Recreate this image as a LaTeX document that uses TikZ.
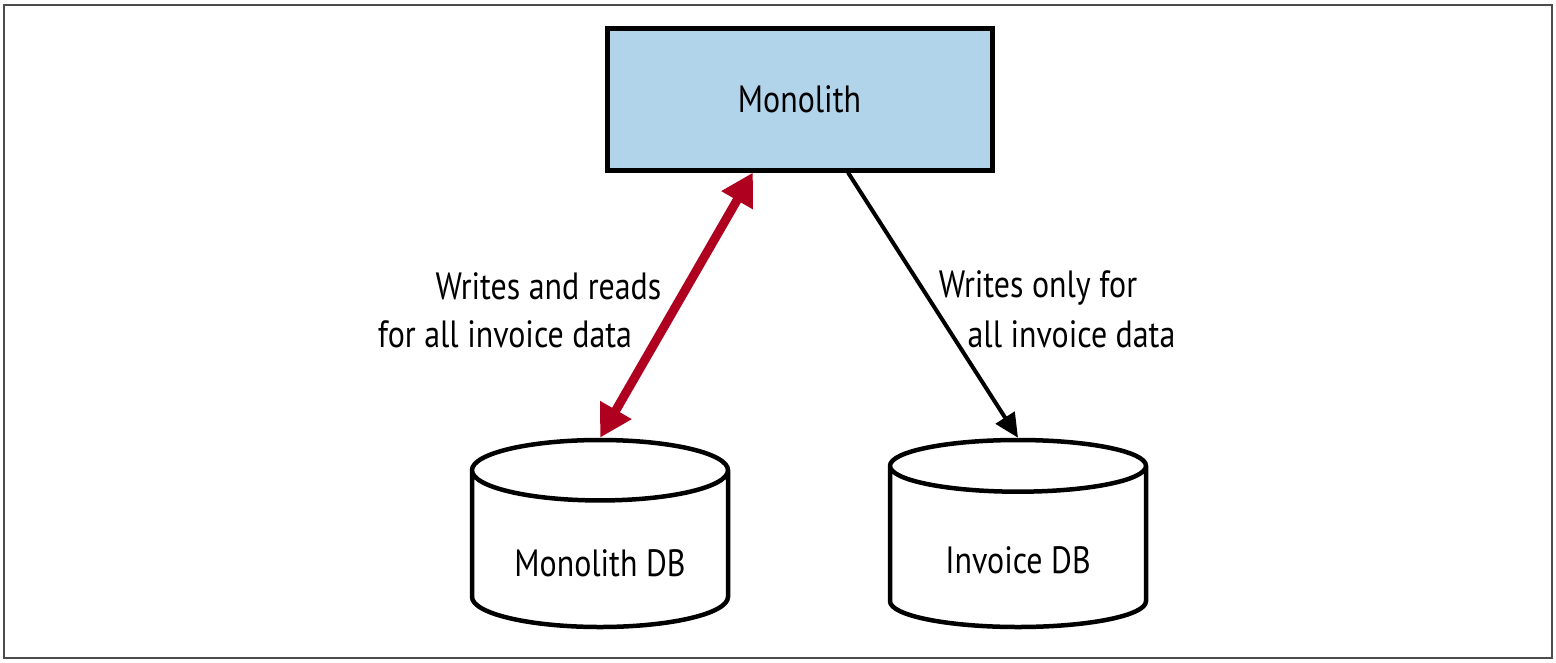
\documentclass[tikz,border=0pt]{standalone}
\usepackage{fontspec}
\setmainfont[FakeStretch=0.84]{PT Sans}
\usetikzlibrary{arrows.meta,shapes.geometric}
\definecolor{boxblue}{RGB}{178,212,234}
\definecolor{arrowred}{RGB}{176,0,32}
\newcommand{\dbtext}[1]{\raisebox{-10pt}[\height][\depth]{#1}}

\begin{document}
\begin{tikzpicture}[x=1pt,y=-1pt,
    box/.style = {rectangle,draw=black,line width=5pt,fill=boxblue,minimum width=385pt,minimum height=142pt,font=\fontsize{38}{46}\selectfont},
    db/.style = {cylinder,shape border rotate=90,aspect=0.34,draw=black,line width=4.5pt,minimum width=256pt,minimum height=187pt,anchor=shape center,font=\fontsize{38}{46}\selectfont},
    lbl/.style = {anchor=base,inner sep=0pt,font=\fontsize{38}{46}\selectfont}]
    \useasboundingbox (0,0) rectangle (1556,662);
    \draw[black!70,line width=2pt] (4,5) rectangle (1552,658);
    \node[box] (mono) at (799.5,99) {Monolith};
    \node[db] (mdb) at (600,533.5) {\dbtext{Monolith DB}};
    \node[db] (idb) at (1018,533.5) {\dbtext{Invoice DB}};
    \node[lbl] (rwtop) at (548.5,299) {Writes and reads};
    \node[lbl] (rwbot) at (505,347) {for all invoice data};
    \node[lbl] (wotop) at (1038,297) {Writes only for};
    \node[lbl] (wobot) at (1071.5,347) {all invoice data};
    \draw[arrowred,line width=9pt,{Triangle[length=32pt,width=34pt]}-{Triangle[length=32pt,width=34pt]}] ([xshift=-46.5]mono.south) -- (mdb.top);
    \draw[black,line width=4pt,-{Triangle[length=24pt,width=22pt]}] ([xshift=48.5]mono.south) -- (idb.top);
\end{tikzpicture}
\end{document}
